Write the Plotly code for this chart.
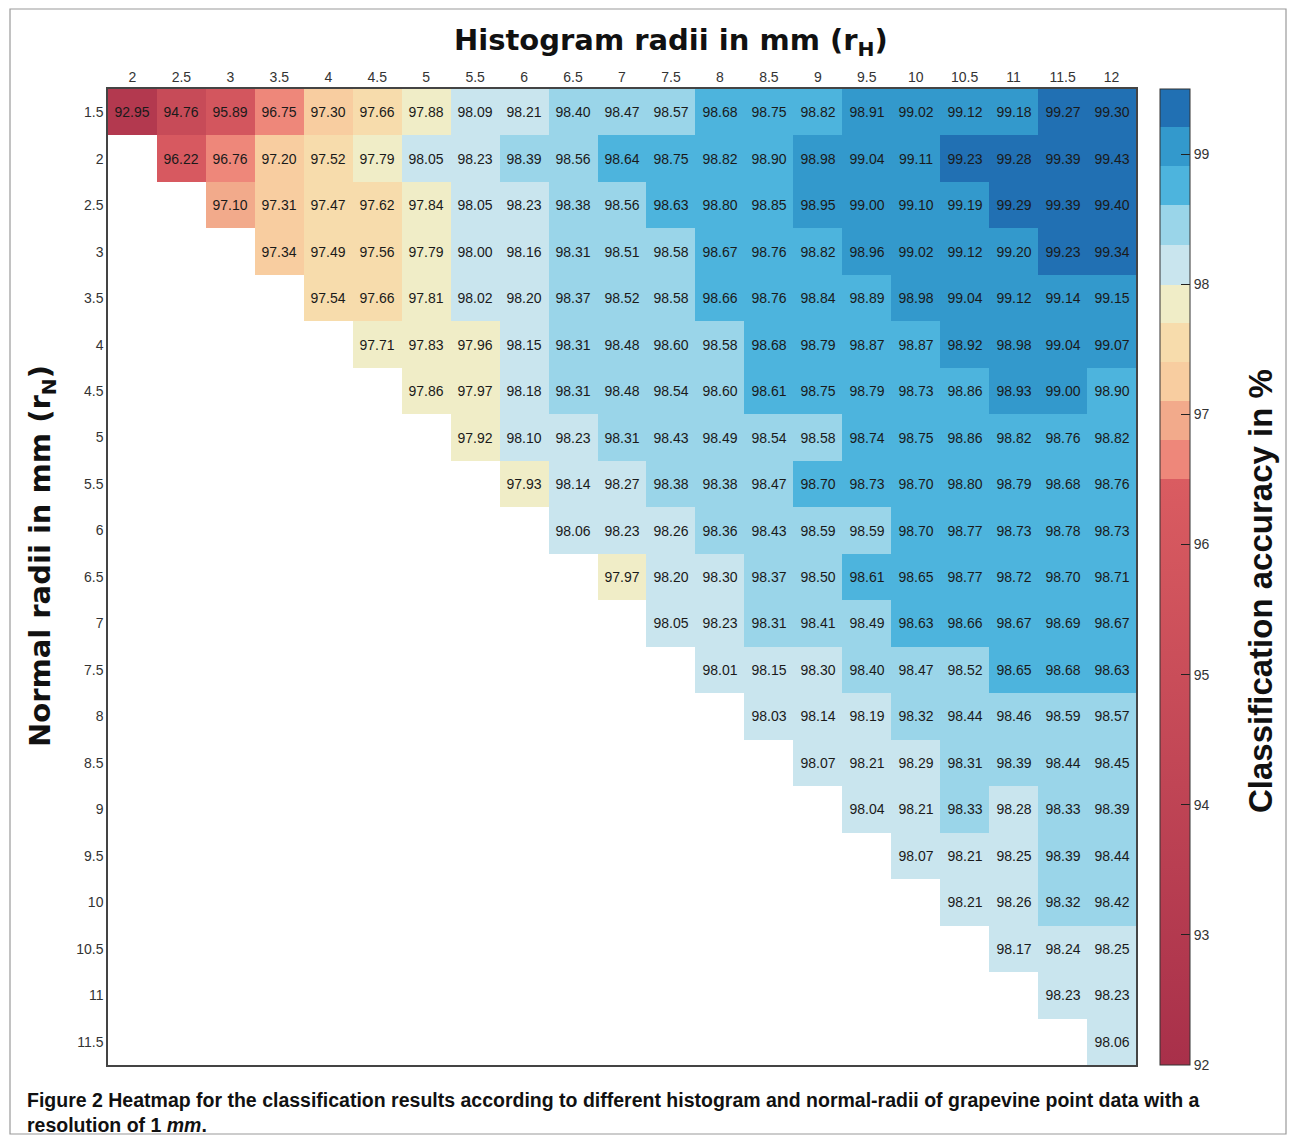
import plotly.graph_objects as go

# histogram radii (columns) and normal radii (rows), in mm
hist_radii = [2, 2.5, 3, 3.5, 4, 4.5, 5, 5.5, 6, 6.5, 7, 7.5, 8, 8.5, 9, 9.5,
              10, 10.5, 11, 11.5, 12]
normal_radii = [1.5, 2, 2.5, 3, 3.5, 4, 4.5, 5, 5.5, 6, 6.5, 7, 7.5, 8, 8.5,
                9, 9.5, 10, 10.5, 11, 11.5]

# classification accuracy per row; each row starts at the column where r_H > r_N
acc_r1_5 = [92.95, 94.76, 95.89, 96.75, 97.30, 97.66, 97.88, 98.09, 98.21, 98.40, 98.47,
            98.57, 98.68, 98.75, 98.82, 98.91, 99.02, 99.12, 99.18, 99.27, 99.30]
acc_r2 = [96.22, 96.76, 97.20, 97.52, 97.79, 98.05, 98.23, 98.39, 98.56, 98.64, 98.75,
          98.82, 98.90, 98.98, 99.04, 99.11, 99.23, 99.28, 99.39, 99.43]
acc_r2_5 = [97.10, 97.31, 97.47, 97.62, 97.84, 98.05, 98.23, 98.38, 98.56, 98.63, 98.80,
            98.85, 98.95, 99.00, 99.10, 99.19, 99.29, 99.39, 99.40]
acc_r3 = [97.34, 97.49, 97.56, 97.79, 98.00, 98.16, 98.31, 98.51, 98.58, 98.67, 98.76,
          98.82, 98.96, 99.02, 99.12, 99.20, 99.23, 99.34]
acc_r3_5 = [97.54, 97.66, 97.81, 98.02, 98.20, 98.37, 98.52, 98.58, 98.66, 98.76, 98.84,
            98.89, 98.98, 99.04, 99.12, 99.14, 99.15]
acc_r4 = [97.71, 97.83, 97.96, 98.15, 98.31, 98.48, 98.60, 98.58, 98.68, 98.79, 98.87,
          98.87, 98.92, 98.98, 99.04, 99.07]
acc_r4_5 = [97.86, 97.97, 98.18, 98.31, 98.48, 98.54, 98.60, 98.61, 98.75, 98.79, 98.73,
            98.86, 98.93, 99.00, 98.90]
acc_r5 = [97.92, 98.10, 98.23, 98.31, 98.43, 98.49, 98.54, 98.58, 98.74, 98.75, 98.86,
          98.82, 98.76, 98.82]
acc_r5_5 = [97.93, 98.14, 98.27, 98.38, 98.38, 98.47, 98.70, 98.73, 98.70, 98.80, 98.79,
            98.68, 98.76]
acc_r6 = [98.06, 98.23, 98.26, 98.36, 98.43, 98.59, 98.59, 98.70, 98.77, 98.73, 98.78, 98.73]
acc_r6_5 = [97.97, 98.20, 98.30, 98.37, 98.50, 98.61, 98.65, 98.77, 98.72, 98.70, 98.71]
acc_r7 = [98.05, 98.23, 98.31, 98.41, 98.49, 98.63, 98.66, 98.67, 98.69, 98.67]
acc_r7_5 = [98.01, 98.15, 98.30, 98.40, 98.47, 98.52, 98.65, 98.68, 98.63]
acc_r8 = [98.03, 98.14, 98.19, 98.32, 98.44, 98.46, 98.59, 98.57]
acc_r8_5 = [98.07, 98.21, 98.29, 98.31, 98.39, 98.44, 98.45]
acc_r9 = [98.04, 98.21, 98.33, 98.28, 98.33, 98.39]
acc_r9_5 = [98.07, 98.21, 98.25, 98.39, 98.44]
acc_r10 = [98.21, 98.26, 98.32, 98.42]
acc_r10_5 = [98.17, 98.24, 98.25]
acc_r11 = [98.23, 98.23]
acc_r11_5 = [98.06]

rows = [acc_r1_5, acc_r2, acc_r2_5, acc_r3, acc_r3_5, acc_r4, acc_r4_5, acc_r5, acc_r5_5,
        acc_r6, acc_r6_5, acc_r7, acc_r7_5, acc_r8, acc_r8_5, acc_r9, acc_r9_5, acc_r10,
        acc_r10_5, acc_r11, acc_r11_5]

# pad the lower triangle with blanks
z = [[None] * (len(hist_radii) - len(r)) + r for r in rows]

# banded colour map
ZMIN, ZMAX = 92.0, 99.5
bands = [
    (96.505, 96.805, "#ee877a"),
    (96.805, 97.105, "#f2aa8b"),
    (97.105, 97.405, "#f8cda0"),
    (97.405, 97.705, "#f7dcac"),
    (97.705, 97.995, "#f0edc7"),
    (97.995, 98.305, "#c9e5ee"),
    (98.305, 98.605, "#9ad5e9"),
    (98.605, 98.905, "#4db4dd"),
    (98.905, 99.205, "#3399cc"),
    (99.205, 99.5, "#2170b3"),
]


def frac(v):
    return (v - ZMIN) / (ZMAX - ZMIN)


colorscale = [[0.0, "#a8304a"], [frac(96.505), "#da5c61"]]
for lo, hi, c in bands:
    colorscale.append([frac(lo), c])
    colorscale.append([min(frac(hi), 1.0), c])

# the page body adds an 8px margin, so the figure is drawn 8px in
OFF = 8
W, H = 1295 - 2 * OFF, 1143 - 2 * OFF
# plot area edges in page pixels
L, R, T, B = 108, 1136, 89, 1065


def px(x):
    return (x - L) / (R - L)


def py(y):
    return (B - y) / (B - T)


fig = go.Figure(
    go.Heatmap(
        x=hist_radii,
        y=normal_radii,
        z=z,
        zmin=ZMIN,
        zmax=ZMAX,
        colorscale=colorscale,
        texttemplate="%{z:.2f}",
        textfont=dict(family="Liberation Sans, Arial", size=14, color="#1a1a1a"),
        hoverongaps=False,
        colorbar=dict(
            x=px(1160), xanchor="left", xpad=0,
            y=0, yanchor="bottom", len=1.0, lenmode="fraction", ypad=0,
            thickness=30,
            outlinecolor="#333333", outlinewidth=1,
            tickvals=[92, 93, 94, 95, 96, 97, 98, 99],
            ticks="inside", ticklen=9, tickcolor="#222222",
            tickfont=dict(family="Liberation Sans, Arial", size=14, color="#333333"),
        ),
    )
)

fig.update_xaxes(
    side="top",
    tickvals=hist_radii,
    ticktext=[f"{v:g}" for v in hist_radii],
    range=[hist_radii[0] - 0.25, hist_radii[-1] + 0.25],
    showgrid=False, zeroline=False, ticks="",
    showline=True, linecolor="#444444", linewidth=1.5, mirror=True,
    tickfont=dict(family="Liberation Sans, Arial", size=14, color="#333333"),
)
fig.update_yaxes(
    tickvals=normal_radii,
    ticktext=[f"{v:g}" for v in normal_radii],
    range=[normal_radii[-1] + 0.25, normal_radii[0] - 0.25],
    showgrid=False, zeroline=False, ticks="",
    showline=True, linecolor="#444444", linewidth=1.5, mirror=True,
    tickfont=dict(family="Liberation Sans, Arial", size=14, color="#333333"),
)

fig.add_annotation(
    text="Histogram radii in mm (r<sub>H</sub>)",
    x=px(671), y=py(42), xref="paper", yref="paper", showarrow=False,
    xanchor="center", yanchor="middle",
    font=dict(family="DejaVu Sans", size=29, color="#111111", weight="bold"),
)
fig.add_annotation(
    text="Normal radii in mm (r<sub>N</sub>)",
    x=px(42), y=py(556), xref="paper", yref="paper", showarrow=False, textangle=-90,
    xanchor="center", yanchor="middle",
    font=dict(family="DejaVu Sans", size=29, color="#111111", weight="bold"),
)
fig.add_annotation(
    text="Classification accuracy in %",
    x=px(1260), y=py(591), xref="paper", yref="paper", showarrow=False, textangle=-90,
    xanchor="center", yanchor="middle",
    font=dict(family="Liberation Sans, Arial", size=33, color="#111111", weight="bold"),
)
fig.add_annotation(
    text="<b>Figure 2</b> Heatmap for the classification results according to different "
         "histogram and normal-radii of grapevine point data with a<br>"
         "resolution of 1 <i>mm</i>.",
    x=px(25), y=py(1112), xref="paper", yref="paper", xanchor="left", yanchor="middle",
    align="left", showarrow=False,
    font=dict(family="Liberation Sans, Arial", size=19.5, color="#111111", weight=600),
)

# light frame round the whole figure
fig.add_shape(
    type="rect", xref="paper", yref="paper",
    x0=px(10), x1=px(1286), y0=py(1134), y1=py(9),
    line=dict(color="#9a9a9a", width=1.2), layer="below",
)

fig.update_layout(
    width=W, height=H,
    margin=dict(l=L - OFF, r=W - (R - OFF), t=T - OFF, b=H - (B - OFF)),
    plot_bgcolor="white",
    paper_bgcolor="white",
)

fig.write_html("out.html")
